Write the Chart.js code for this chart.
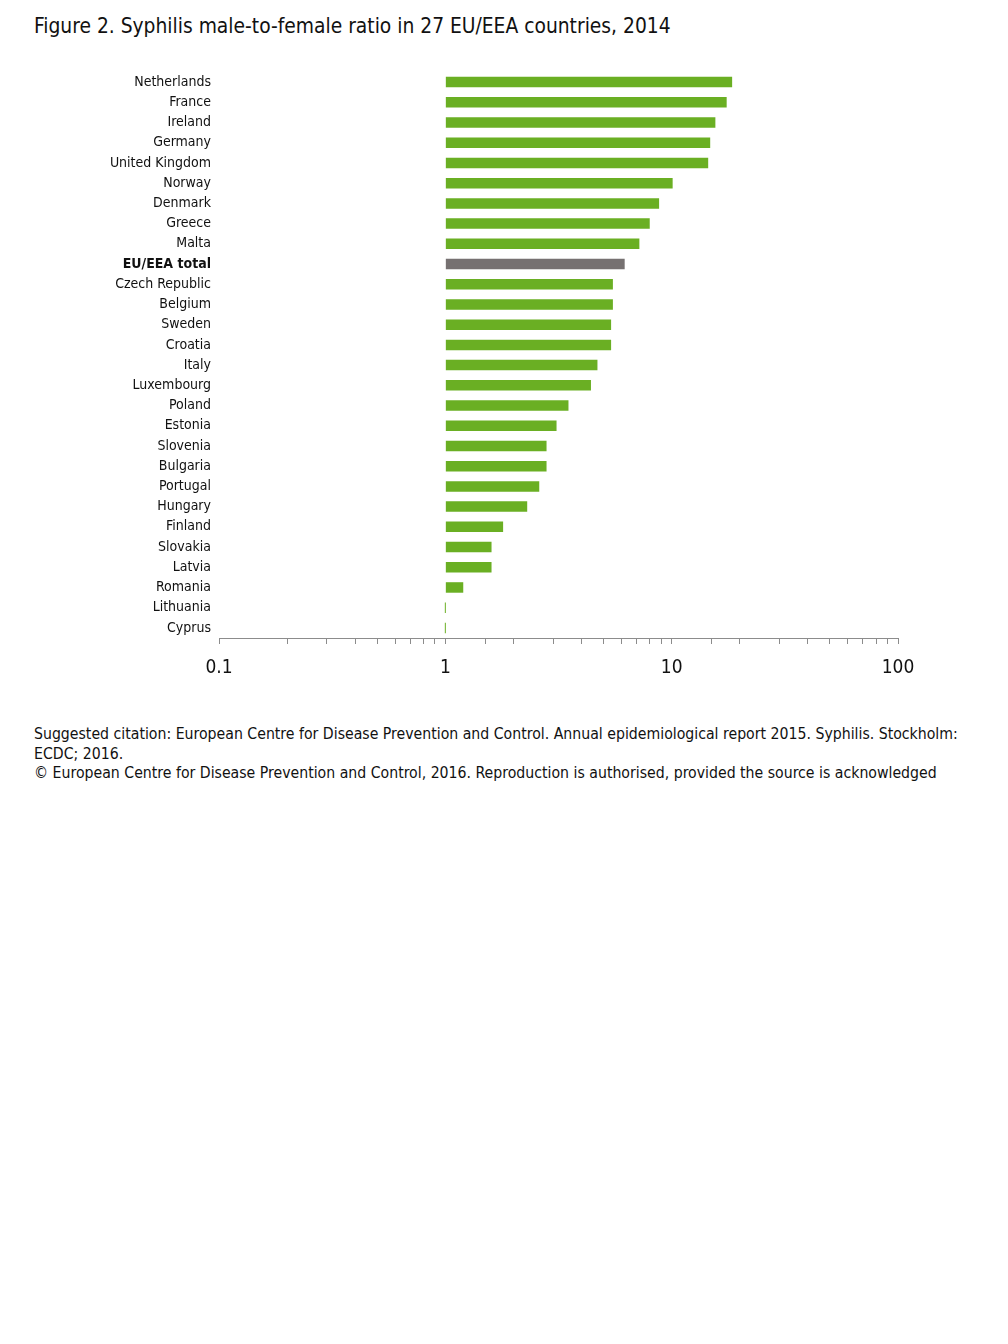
<!DOCTYPE html>
<html>
<head>
<meta charset="utf-8">
<script src="https://cdn.jsdelivr.net/npm/chart.js@4"></script>
<style>
  html, body { margin:0; padding:0; background:#fff; }
  body { width:1008px; height:1344px; position:relative; font-family:"DejaVu Sans Condensed","DejaVu Sans",sans-serif; color:#111; }
  #title { position:absolute; left:34px; top:14px; font-size:20.8px; white-space:nowrap; }
  #wrap { position:absolute; left:0; top:60px; width:1008px; height:628px; }
  #cite { position:absolute; left:34px; top:724px; width:950px; font-size:15.7px; line-height:19.5px; }
</style>
</head>
<body>
<div id="title">Figure 2. Syphilis male-to-female ratio in 27 EU/EEA countries, 2014</div>
<div id="wrap"><canvas id="c" width="1008" height="628"></canvas></div>
<div id="cite">Suggested citation: European Centre for Disease Prevention and Control. Annual epidemiological report 2015. Syphilis. Stockholm: ECDC; 2016.<br>© European Centre for Disease Prevention and Control, 2016. Reproduction is authorised, provided the source is acknowledged</div>
<script>
const countries = ["Netherlands","France","Ireland","Germany","United Kingdom","Norway","Denmark","Greece","Malta","EU/EEA total","Czech Republic","Belgium","Sweden","Croatia","Italy","Luxembourg","Poland","Estonia","Slovenia","Bulgaria","Portugal","Hungary","Finland","Slovakia","Latvia","Romania","Lithuania","Cyprus"];
const ratios = [18.5,17.5,15.6,14.8,14.5,10.1,8.8,8.0,7.2,6.2,5.5,5.5,5.4,5.4,4.7,4.4,3.5,3.1,2.8,2.8,2.6,2.3,1.8,1.6,1.6,1.2,1.0,1.0];
const totalLabel = "EU/EEA total";
const xTickLabels = [0.1, 1, 10, 100];

const GREEN = "#6aaf23", GREY = "#767171", AXIS = "#8c8c8c";
Chart.defaults.font.family = '"DejaVu Sans Condensed","DejaVu Sans",sans-serif';
Chart.defaults.animation = false;

new Chart(document.getElementById('c'), {
  type: 'bar',
  data: {
    labels: countries,
    datasets: [{
      data: ratios,
      base: 1,
      minBarLength: 1,
      backgroundColor: countries.map(c => c === totalLabel ? GREY : GREEN),
      barPercentage: 0.52,
      categoryPercentage: 1.0
    }]
  },
  options: {
    indexAxis: 'y',
    responsive: false,
    layout: { padding: { left: 0, right: 110, top: 12, bottom: 0 } },
    plugins: { legend: { display: false }, tooltip: { enabled: false } },
    scales: {
      x: {
        type: 'logarithmic',
        min: 0.1, max: 100,
        afterFit: s => { s.height = 50; },
        border: { display: true, color: AXIS, width: 1 },
        grid: { drawOnChartArea: false, drawTicks: true, tickLength: 6, color: AXIS },
        ticks: {
          autoSkip: false, maxRotation: 0, padding: 13,
          color: '#111', font: { size: 19 },
          callback: v => xTickLabels.includes(Number(v)) ? String(v) : ''
        }
      },
      y: {
        afterFit: s => { s.width = 219; },
        border: { display: false },
        grid: { display: false },
        ticks: {
          autoSkip: false, padding: 0, color: '#111',
          font: ctx => (countries[ctx.index] === totalLabel) ? { size: 14, weight: 'bold' } : { size: 14 }
        }
      }
    }
  }
});
</script>
</body>
</html>
